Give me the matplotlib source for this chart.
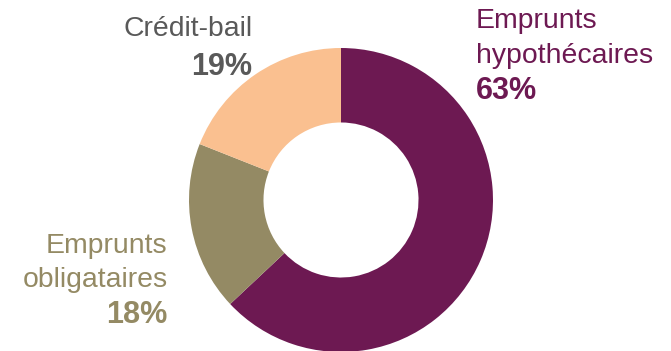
import matplotlib
matplotlib.use("Agg")
import matplotlib.pyplot as plt

# parts of the debt, clockwise from 12 o'clock
labels = ["Emprunts\nhypothécaires", "Emprunts\nobligataires", "Crédit-bail"]
shares = [63, 18, 19]
colors = ["#6D1952", "#948A64", "#FAC090"]
text_colors = ["#6D1952", "#948A64", "#595959"]

W, H = 671, 351
plt.rcParams['font.family'] = ['Liberation Sans', 'DejaVu Sans']

fig = plt.figure(figsize=(W / 100, H / 100), dpi=100)
ax = fig.add_axes([0, 0, 1, 1])
ax.set_xlim(0, W)
ax.set_ylim(H, 0)
ax.axis('off')

# pie in y-up coords, so draw on a twin axes with normal y
pax = fig.add_axes([0, 0, 1, 1])
pax.pie(shares, colors=colors, startangle=90, counterclock=False,
        center=(341, H - 200), radius=152, frame=True,
        wedgeprops=dict(width=152 * 0.49, linewidth=0))
pax.set_xlim(0, W)
pax.set_ylim(0, H)
pax.axis('off')

fs = 20.4
# label blocks: (x, ha, baselines) per slice
blocks = [
    (476, 'left', [28.3, 63.3, 99]),
    (167.5, 'right', [252.7, 286.7, 322.7]),
    (252.5, 'right', [36, 75]),
]
for lab, val, tc, (x, ha, ys) in zip(labels, shares, text_colors, blocks):
    lines = lab.split("\n")
    for line, y in zip(lines, ys):
        ax.text(x, y, line, color=tc, fontsize=fs, ha=ha, va='baseline')
    ax.text(x, ys[-1], f"{val}%", color=tc, fontsize=22, ha=ha,
            va='baseline', fontweight='bold')

fig.savefig("out.png", dpi=100)
